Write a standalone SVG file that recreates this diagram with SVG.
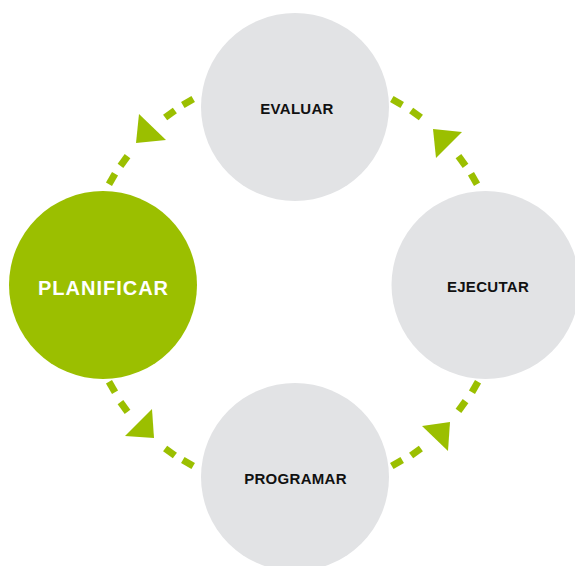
<svg xmlns="http://www.w3.org/2000/svg" width="575" height="566" viewBox="0 0 575 566">
  <style>
    .dash { stroke: #9bbf00; stroke-width: 7; stroke-linecap: butt; fill: none; }
    .head { fill: #9bbf00; }
    .node { fill: #e2e3e5; }
    .node-active { fill: #9bbf00; }
    .lbl { font-family: "Liberation Sans", Arial, sans-serif; font-weight: bold; font-size: 15px; fill: #111111; text-anchor: middle; letter-spacing: 0.3px; }
    .lbl-big { font-family: "Liberation Sans", Arial, sans-serif; font-weight: bold; font-size: 20px; fill: #ffffff; text-anchor: middle; letter-spacing: 1px; }
  </style>
  <rect width="575" height="566" fill="#ffffff"/>
  <g id="connectors">
    <!-- EVALUAR -> PLANIFICAR (top-left) -->
    <line class="dash" x1="108.98" y1="184.19" x2="115.02" y2="173.81"/>
    <line class="dash" x1="120.47" y1="165.85" x2="127.53" y2="156.15"/>
    <line class="dash" x1="165.14" y1="117.52" x2="174.86" y2="110.48"/>
    <line class="dash" x1="182.81" y1="105.01" x2="193.19" y2="98.99"/>
    <polygon class="head" points="139,114 136,143 166,140"/>
    <!-- EJECUTAR -> EVALUAR (top-right) -->
    <line class="dash" x1="391.81" y1="98.99" x2="402.19" y2="105.01"/>
    <line class="dash" x1="411.14" y1="110.48" x2="420.86" y2="117.52"/>
    <line class="dash" x1="458.47" y1="156.15" x2="465.53" y2="165.85"/>
    <line class="dash" x1="470.98" y1="173.81" x2="477.02" y2="184.19"/>
    <polygon class="head" points="433,129 462,132 436,158"/>
    <!-- PROGRAMAR -> EJECUTAR (bottom-right) -->
    <line class="dash" x1="478.02" y1="381.81" x2="471.98" y2="392.19"/>
    <line class="dash" x1="465.53" y1="401.15" x2="458.47" y2="410.85"/>
    <line class="dash" x1="420.86" y1="448.48" x2="411.14" y2="455.52"/>
    <line class="dash" x1="402.19" y1="459.99" x2="391.81" y2="466.01"/>
    <polygon class="head" points="422,426 450,422 448,451"/>
    <!-- PLANIFICAR -> PROGRAMAR (bottom-left) -->
    <line class="dash" x1="108.98" y1="381.81" x2="115.02" y2="392.19"/>
    <line class="dash" x1="120.47" y1="402.15" x2="127.53" y2="411.85"/>
    <line class="dash" x1="165.14" y1="448.48" x2="174.86" y2="455.52"/>
    <line class="dash" x1="182.81" y1="459.99" x2="193.19" y2="466.01"/>
    <polygon class="head" points="152,409 154,438 125,436"/>
  </g>
  <g id="evaluar">
    <circle class="node" cx="295" cy="107" r="94"/>
    <text class="lbl" x="297" y="114">EVALUAR</text>
  </g>
  <g id="ejecutar">
    <circle class="node" cx="485.5" cy="285" r="94"/>
    <text class="lbl" x="488" y="291.5">EJECUTAR</text>
  </g>
  <g id="programar">
    <circle class="node" cx="295" cy="477" r="94"/>
    <text class="lbl" x="295.5" y="484">PROGRAMAR</text>
  </g>
  <g id="planificar">
    <circle class="node-active" cx="103" cy="285" r="94"/>
    <text class="lbl-big" x="103.5" y="295">PLANIFICAR</text>
  </g>
</svg>
